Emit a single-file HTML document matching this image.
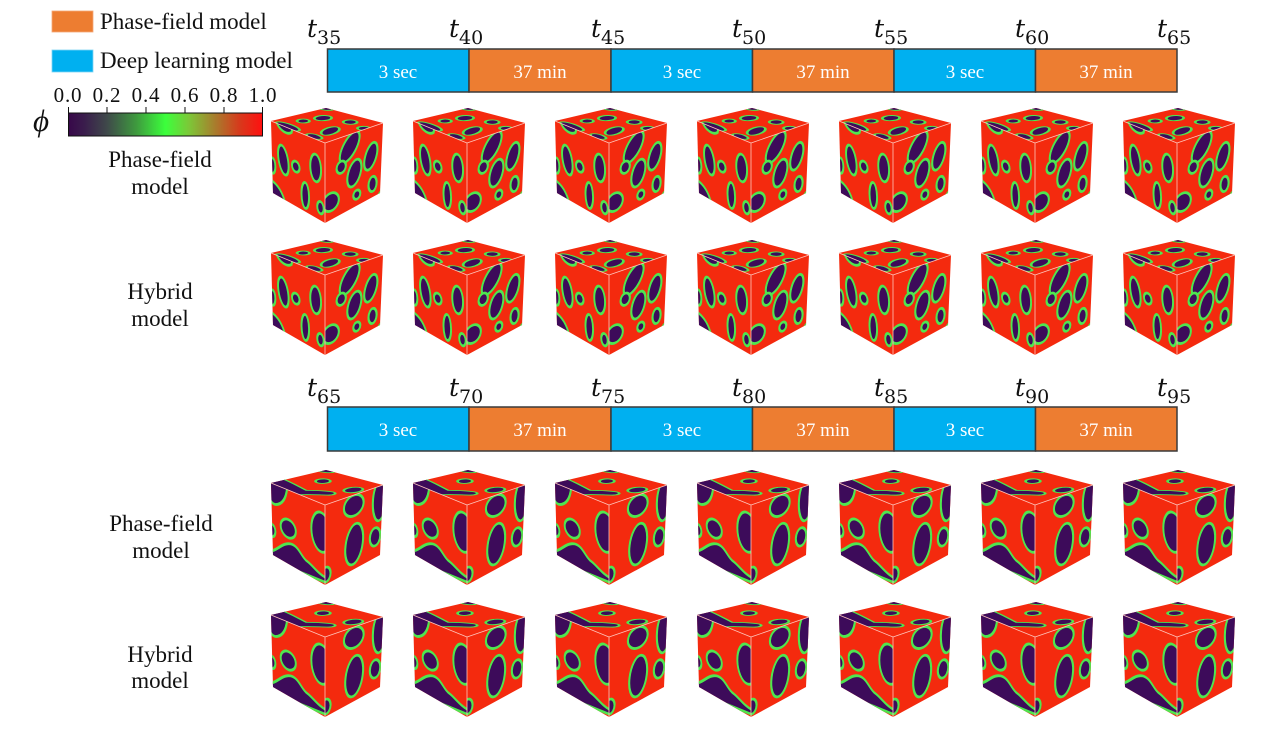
<!DOCTYPE html>
<html><head><meta charset="utf-8"><style>
html,body{margin:0;padding:0;background:#fff;}
svg{display:block;}
</style></head><body>
<svg width="1286" height="734" viewBox="0 0 1286 734" xmlns="http://www.w3.org/2000/svg">
<defs>
<linearGradient id="cb" x1="0" y1="0" x2="1" y2="0">
<stop offset="0" stop-color="#38084a"/>
<stop offset="0.08" stop-color="#3a1c4c"/>
<stop offset="0.2" stop-color="#3f4a4a"/>
<stop offset="0.35" stop-color="#3e9a3e"/>
<stop offset="0.5" stop-color="#3cff3c"/>
<stop offset="0.62" stop-color="#7cc838"/>
<stop offset="0.76" stop-color="#aa7a2c"/>
<stop offset="0.88" stop-color="#d63a1c"/>
<stop offset="1" stop-color="#ff1010"/>
</linearGradient>
<clipPath id="cL"><polygon points="-54,-22 0,0 0,80 -52,50"/></clipPath>
<clipPath id="cR"><polygon points="0,0 58,-20 55,50 0,80"/></clipPath>
<clipPath id="cT"><polygon points="-54,-22 1,-35 58,-20 0,0"/></clipPath>

<g id="cubeA">
 <polygon points="-54,-22 1,-35 58,-20 55,50 0,80 -52,50" fill="#f42a0e"/>
 <g clip-path="url(#cL)"><g transform="matrix(0.54,0.22,0.01,0.76,-54,-22)" fill="#3d0b5a" stroke="#4fe64f" stroke-width="3.6">
  <path d="M10,-2 C15,8 30,10 38,4 L40,-2 Z"/>
  <ellipse cx="22" cy="45" rx="9" ry="19" transform="rotate(-12 22 45)"/>
  <circle cx="45" cy="47" r="7"/>
  <ellipse cx="82" cy="38" rx="10" ry="18"/>
  <path d="M-2,78 C10,80 20,88 25,102 L-2,102 Z"/>
  <ellipse cx="62" cy="80" rx="7" ry="17"/>
  <ellipse cx="2" cy="58" rx="5" ry="10"/>
  <ellipse cx="90" cy="88" rx="6" ry="8"/>
 </g></g>
 <g clip-path="url(#cR)"><g transform="matrix(0.58,-0.2,-0.015,0.75,0,0)" fill="#3d0b5a" stroke="#4fe64f" stroke-width="3.6">
  <ellipse cx="43" cy="17" rx="22" ry="12" transform="rotate(-50 43 17)"/>
  <ellipse cx="52" cy="54" rx="11" ry="18" transform="rotate(20 52 54)"/>
  <circle cx="29" cy="40" r="8"/>
  <ellipse cx="12" cy="82" rx="14" ry="12"/>
  <ellipse cx="80" cy="39" rx="10" ry="18" transform="rotate(20 80 39)"/>
  <circle cx="57" cy="84" r="6"/>
  <ellipse cx="84" cy="77" rx="7" ry="10"/>
  <path d="M102,88 L85,102 L102,102 Z"/>
 </g></g>
 <g clip-path="url(#cT)"><g transform="matrix(0.55,-0.13,0.54,0.22,-54,-22)" fill="#3d0b5a" stroke="#4fe64f" stroke-width="3.6">
  <ellipse cx="4" cy="27" rx="9" ry="20"/>
  <ellipse cx="37" cy="22" rx="9" ry="7"/>
  <ellipse cx="68" cy="27" rx="13" ry="9"/>
  <ellipse cx="40" cy="69" rx="20" ry="9" transform="rotate(-20 40 69)"/>
  <ellipse cx="6" cy="74" rx="8" ry="12"/>
  <ellipse cx="88" cy="57" rx="10" ry="8"/>
  <ellipse cx="86" cy="84" rx="9" ry="7"/>
  <circle cx="102" cy="-2" r="12"/>
  <circle cx="108" cy="106" r="13"/>
 </g></g>
 <g stroke="#ffc6bc" stroke-width="0.8" fill="none">
  <line x1="0" y1="0" x2="0" y2="80"/><line x1="0" y1="0" x2="-54" y2="-22"/><line x1="0" y1="0" x2="58" y2="-20"/>
 </g>
</g>

<g id="cubeB">
 <polygon points="-54,-22 1,-35 58,-20 55,50 0,80 -52,50" fill="#f42a0e"/>
 <g clip-path="url(#cL)"><g transform="matrix(0.54,0.22,0.01,0.76,-54,-22)" fill="#3d0b5a" stroke="#4fe64f" stroke-width="3.6">
  <path d="M-2,-2 L30,-2 C28,10 22,22 8,26 C2,27 -2,24 -2,20 Z"/>
  <ellipse cx="31" cy="51" rx="14" ry="12"/>
  <ellipse cx="92" cy="38" rx="18" ry="26"/>
  <path d="M-2,102 L-2,90 C10,86 20,72 35,70 C50,68 55,82 65,84 C75,86 85,95 102,96 L102,102 Z"/>
  <ellipse cx="1" cy="62" rx="6" ry="8"/>
 </g></g>
 <g clip-path="url(#cR)"><g transform="matrix(0.58,-0.2,-0.015,0.75,0,0)" fill="#3d0b5a" stroke="#4fe64f" stroke-width="3.6">
  <ellipse cx="50" cy="14" rx="17" ry="14"/>
  <ellipse cx="52" cy="66" rx="15" ry="27" transform="rotate(8 52 66)"/>
  <ellipse cx="94" cy="20" rx="11" ry="26"/>
  <ellipse cx="88" cy="66" rx="9" ry="12"/>
  <ellipse cx="4" cy="94" rx="8" ry="10"/>
 </g></g>
 <g clip-path="url(#cT)"><g transform="matrix(0.55,-0.13,0.54,0.22,-54,-22)" fill="#3d0b5a" stroke="#4fe64f" stroke-width="3.6">
  <path d="M-4,-4 L25,-4 C26,10 22,28 20,45 C28,50 40,58 46,68 C48,74 40,78 32,74 C20,66 10,56 -4,52 Z"/>
  <ellipse cx="65" cy="30" rx="11" ry="8"/>
  <ellipse cx="75" cy="76" rx="15" ry="9"/>
  <circle cx="104" cy="-4" r="16"/>
 </g></g>
 <g stroke="#ffc6bc" stroke-width="0.8" fill="none">
  <line x1="0" y1="0" x2="0" y2="80"/><line x1="0" y1="0" x2="-54" y2="-22"/><line x1="0" y1="0" x2="58" y2="-20"/>
 </g>
</g>
</defs>

<!-- legend -->
<rect x="52" y="11" width="41" height="21" fill="#ed7d31" stroke="#f4a878" stroke-width="0.8"/>
<rect x="52" y="50" width="41" height="22" fill="#00b0f0" stroke="#7fd4f4" stroke-width="0.8"/>
<g font-family="Liberation Serif, serif" font-size="23" fill="#111">
<text x="100" y="29">Phase-field model</text>
<text x="100" y="68">Deep learning model</text>
</g>

<!-- colorbar -->
<g font-family="Liberation Serif, serif" font-size="21" fill="#111" text-anchor="middle" letter-spacing="0.8">
<text x="68" y="102">0.0</text><text x="107" y="102">0.2</text><text x="146" y="102">0.4</text>
<text x="185" y="102">0.6</text><text x="224" y="102">0.8</text><text x="263" y="102">1.0</text>
</g>
<rect x="68.5" y="113" width="194" height="23" fill="url(#cb)" stroke="#111" stroke-width="1"/>
<g stroke="#111" stroke-width="1">
<line x1="68.5" y1="107" x2="68.5" y2="113"/><line x1="107" y1="107" x2="107" y2="113"/><line x1="146" y1="107" x2="146" y2="113"/>
<line x1="185" y1="107" x2="185" y2="113"/><line x1="224" y1="107" x2="224" y2="113"/><line x1="262.5" y1="107" x2="262.5" y2="113"/>
</g>
<text x="41" y="131" font-family="Liberation Serif, DejaVu Serif, serif" font-style="italic" font-size="31" text-anchor="middle" fill="#111">ϕ</text>

<!-- row labels -->
<g font-family="Liberation Serif, serif" font-size="23" fill="#111" text-anchor="middle">
<text x="160" y="167">Phase-field</text><text x="160" y="194">model</text>
<text x="160" y="299">Hybrid</text><text x="160" y="326">model</text>
<text x="161" y="531">Phase-field</text><text x="161" y="558">model</text>
<text x="160" y="662">Hybrid</text><text x="160" y="688">model</text>
</g>

<!-- timeline 1 -->
<g stroke="#3a3a3a" stroke-width="1.5">
<rect x="327.5" y="49" width="141.5" height="43" fill="#00b0f0"/>
<rect x="469" y="49" width="142" height="43" fill="#ed7d31"/>
<rect x="611" y="49" width="141.5" height="43" fill="#00b0f0"/>
<rect x="752.5" y="49" width="141.5" height="43" fill="#ed7d31"/>
<rect x="894" y="49" width="141.5" height="43" fill="#00b0f0"/>
<rect x="1035.5" y="49" width="141.5" height="43" fill="#ed7d31"/>
</g>
<g font-family="Liberation Serif, serif" font-size="19" fill="#fff" text-anchor="middle">
<text x="398" y="78">3 sec</text><text x="540" y="78">37 min</text><text x="682" y="78">3 sec</text>
<text x="823" y="78">37 min</text><text x="965" y="78">3 sec</text><text x="1106" y="78">37 min</text>
</g>
<g font-family="DejaVu Serif, serif" fill="#111">
<text x="307" y="37" font-style="italic" font-size="25">t<tspan font-style="normal" font-size="19" dy="7">35</tspan></text>
<text x="449" y="37" font-style="italic" font-size="25">t<tspan font-style="normal" font-size="19" dy="7">40</tspan></text>
<text x="591" y="37" font-style="italic" font-size="25">t<tspan font-style="normal" font-size="19" dy="7">45</tspan></text>
<text x="732" y="37" font-style="italic" font-size="25">t<tspan font-style="normal" font-size="19" dy="7">50</tspan></text>
<text x="874" y="37" font-style="italic" font-size="25">t<tspan font-style="normal" font-size="19" dy="7">55</tspan></text>
<text x="1015" y="37" font-style="italic" font-size="25">t<tspan font-style="normal" font-size="19" dy="7">60</tspan></text>
<text x="1157" y="37" font-style="italic" font-size="25">t<tspan font-style="normal" font-size="19" dy="7">65</tspan></text>
</g>

<!-- timeline 2 -->
<g stroke="#3a3a3a" stroke-width="1.5">
<rect x="327.5" y="407" width="141.5" height="44" fill="#00b0f0"/>
<rect x="469" y="407" width="142" height="44" fill="#ed7d31"/>
<rect x="611" y="407" width="141.5" height="44" fill="#00b0f0"/>
<rect x="752.5" y="407" width="141.5" height="44" fill="#ed7d31"/>
<rect x="894" y="407" width="141.5" height="44" fill="#00b0f0"/>
<rect x="1035.5" y="407" width="141.5" height="44" fill="#ed7d31"/>
</g>
<g font-family="Liberation Serif, serif" font-size="19" fill="#fff" text-anchor="middle">
<text x="398" y="436">3 sec</text><text x="540" y="436">37 min</text><text x="682" y="436">3 sec</text>
<text x="823" y="436">37 min</text><text x="965" y="436">3 sec</text><text x="1106" y="436">37 min</text>
</g>
<g font-family="DejaVu Serif, serif" fill="#111">
<text x="307" y="396" font-style="italic" font-size="25">t<tspan font-style="normal" font-size="19" dy="7">65</tspan></text>
<text x="449" y="396" font-style="italic" font-size="25">t<tspan font-style="normal" font-size="19" dy="7">70</tspan></text>
<text x="591" y="396" font-style="italic" font-size="25">t<tspan font-style="normal" font-size="19" dy="7">75</tspan></text>
<text x="732" y="396" font-style="italic" font-size="25">t<tspan font-style="normal" font-size="19" dy="7">80</tspan></text>
<text x="874" y="396" font-style="italic" font-size="25">t<tspan font-style="normal" font-size="19" dy="7">85</tspan></text>
<text x="1015" y="396" font-style="italic" font-size="25">t<tspan font-style="normal" font-size="19" dy="7">90</tspan></text>
<text x="1157" y="396" font-style="italic" font-size="25">t<tspan font-style="normal" font-size="19" dy="7">95</tspan></text>
</g>

<!-- cubes -->
<use href="#cubeA" transform="translate(325,143)"/><use href="#cubeA" transform="translate(467,143)"/>
<use href="#cubeA" transform="translate(609,143)"/><use href="#cubeA" transform="translate(751,143)"/>
<use href="#cubeA" transform="translate(893,143)"/><use href="#cubeA" transform="translate(1035,143)"/>
<use href="#cubeA" transform="translate(1177,143)"/>

<use href="#cubeA" transform="translate(325,275)"/><use href="#cubeA" transform="translate(467,275)"/>
<use href="#cubeA" transform="translate(609,275)"/><use href="#cubeA" transform="translate(751,275)"/>
<use href="#cubeA" transform="translate(893,275)"/><use href="#cubeA" transform="translate(1035,275)"/>
<use href="#cubeA" transform="translate(1177,275)"/>

<use href="#cubeB" transform="translate(325,505)"/><use href="#cubeB" transform="translate(467,505)"/>
<use href="#cubeB" transform="translate(609,505)"/><use href="#cubeB" transform="translate(751,505)"/>
<use href="#cubeB" transform="translate(893,505)"/><use href="#cubeB" transform="translate(1035,505)"/>
<use href="#cubeB" transform="translate(1177,505)"/>

<use href="#cubeB" transform="translate(325,637)"/><use href="#cubeB" transform="translate(467,637)"/>
<use href="#cubeB" transform="translate(609,637)"/><use href="#cubeB" transform="translate(751,637)"/>
<use href="#cubeB" transform="translate(893,637)"/><use href="#cubeB" transform="translate(1035,637)"/>
<use href="#cubeB" transform="translate(1177,637)"/>
</svg>
</body></html>
